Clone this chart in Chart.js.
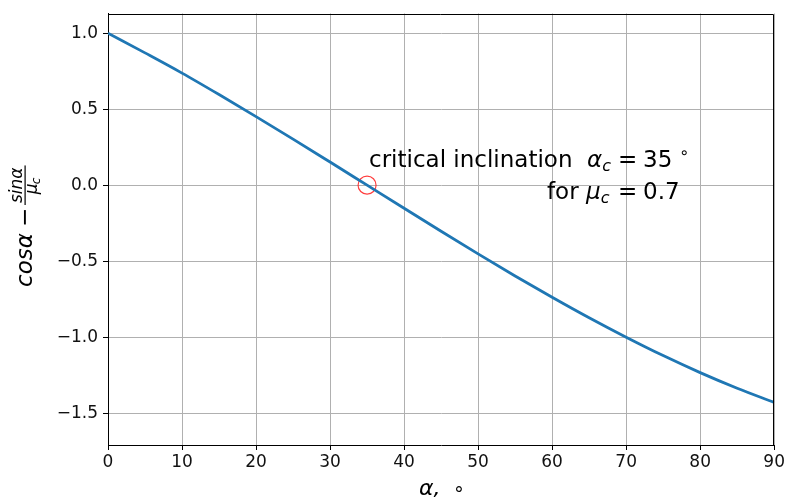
<!DOCTYPE html>
<html>
<head>
<meta charset="utf-8">
<script src="https://cdn.jsdelivr.net/npm/chart.js@4.4.0/dist/chart.umd.min.js"></script>
<style>
  html, body { margin: 0; padding: 0; background: #fff; }
  #wrap { width: 787px; height: 499px; }
</style>
</head>
<body>
<div id="wrap"><canvas id="graph" width="787" height="499"></canvas></div>
<script>
// angle in degrees and the value
const alphaDeg = [0, 5, 10, 15, 20, 25, 30, 35, 40, 45, 50, 55, 60, 65, 70, 75, 80, 85, 90];
const curveVals = [1.0, 0.87, 0.737, 0.596, 0.451, 0.303, 0.152, 0.0, -0.152, -0.303, -0.452,
  -0.597, -0.737, -0.872, -1.0, -1.121, -1.233, -1.336, -1.429];
const critAlpha = [35];
const critVal = [0.0];
const xTicks = [0, 10, 20, 30, 40, 50, 60, 70, 80, 90];
const yTicks = [-1.5, -1.0, -0.5, 0.0, 0.5, 1.0];

const FONT = "'DejaVu Sans', sans-serif";

function setFont(ctx, r) {
  ctx.font = (r.it ? "oblique " : "") + r.size + "px " + FONT;
}

// draws text runs (mathtext-ish); a run with `at` starts at that x
function drawRuns(ctx, runs, x, y) {
  let cx = x;
  runs.forEach((r) => {
    setFont(ctx, r);
    if (r.at !== undefined) cx = r.at;
    ctx.fillText(r.t, cx, y + (r.dy || 0));
    cx += ctx.measureText(r.t).width;
  });
}

const labelsPlugin = {
  id: "labels",
  afterDraw(chart) {
    const ctx = chart.ctx;
    const a = chart.chartArea;
    ctx.save();
    // top and right spines (left/bottom come from the axes)
    ctx.strokeStyle = "#000";
    ctx.lineWidth = 1;
    const t = Math.round(a.top) + 0.5;
    const r = Math.round(a.right) - 0.5;
    ctx.beginPath();
    ctx.moveTo(a.left, t);
    ctx.lineTo(r, t);
    ctx.lineTo(r, a.bottom);
    ctx.stroke();
    ctx.fillStyle = "#000";
    ctx.textBaseline = "alphabetic";

    // annotation
    drawRuns(ctx, [
      { t: "critical inclination", size: 23 },
      { t: "α", size: 23, it: true, at: 587 },
      { t: "c", size: 16, it: true, dy: 4 },
      { t: "=", size: 23, at: 618 },
      { t: "35", size: 23, at: 643 },
      { t: "∘", size: 16, dy: -9, at: 679 }
    ], 369, 167);
    drawRuns(ctx, [
      { t: "for", size: 23 },
      { t: "μ", size: 23, it: true, at: 586 },
      { t: "c", size: 16, it: true, dy: 4 },
      { t: "=", size: 23, at: 618 },
      { t: "0.7", size: 23, at: 643 }
    ], 547, 199);

    // x label
    drawRuns(ctx, [
      { t: "α,", size: 22, it: true },
      { t: "∘", size: 19, at: 453 }
    ], 419, 495);

    // y label, rotated; local x runs upward, local y runs right
    ctx.translate(25, 227);
    ctx.rotate(-Math.PI / 2);
    ctx.font = "oblique 23px " + FONT;
    ctx.fillText("cosα", -60, 7);
    ctx.font = "23px " + FONT;
    ctx.fillText("−", 0, 7);
    ctx.font = "oblique 17px " + FONT;
    const nw = ctx.measureText("sinα").width;
    const fx = 22;
    ctx.fillText("sinα", fx + 2, -3);
    ctx.fillRect(fx, -0.5, nw + 4, 1.2);
    ctx.fillText("μ", fx + (nw + 4) / 2 - 9, 12);
    ctx.font = "oblique 12px " + FONT;
    ctx.fillText("c", fx + (nw + 4) / 2 + 1, 15);
    ctx.restore();
  }
};

const fmtY = (v) => v.toFixed(1).replace("-", "\u2212");

new Chart(document.getElementById("graph"), {
  type: "line",
  data: {
    datasets: [
      {
        data: alphaDeg.map((a, i) => ({ x: a, y: curveVals[i] })),
        borderColor: "#1f77b4",
        borderWidth: 2.8,
        pointRadius: 0,
        cubicInterpolationMode: "monotone",
        fill: false
      },
      {
        data: critAlpha.map((a, i) => ({ x: a, y: critVal[i] })),
        showLine: false,
        pointStyle: "circle",
        pointRadius: 9,
        pointBorderWidth: 1.2,
        pointBorderColor: "rgba(255,30,30,0.85)",
        pointBackgroundColor: "rgba(0,0,0,0)"
      }
    ]
  },
  options: {
    responsive: false,
    animation: false,
    layout: { padding: { left: 0, right: 12, top: 10, bottom: 0 } },
    plugins: { legend: { display: false }, tooltip: { enabled: false } },
    scales: {
      x: {
        type: "linear",
        min: 0,
        max: 90,
        afterBuildTicks: (s) => { s.ticks = xTicks.map((v) => ({ value: v })); },
        afterFit: (s) => { s.height = 54; },
        grid: { color: "#b0b0b0", lineWidth: 1, tickColor: "#000", tickLength: 5 },
        border: { color: "#000", width: 1 },
        ticks: { color: "#111", font: { family: FONT, size: 17 }, padding: 2, maxRotation: 0 }
      },
      y: {
        min: -1.709,
        max: 1.129,
        afterBuildTicks: (s) => { s.ticks = yTicks.map((v) => ({ value: v })); },
        afterFit: (s) => { s.width = 108; },
        grid: { color: "#b0b0b0", lineWidth: 1, tickColor: "#000", tickLength: 5 },
        border: { color: "#000", width: 1 },
        ticks: { color: "#111", font: { family: FONT, size: 17, lineHeight: 1 }, padding: 5, callback: fmtY }
      }
    }
  },
  plugins: [labelsPlugin]
});
</script>
</body>
</html>
